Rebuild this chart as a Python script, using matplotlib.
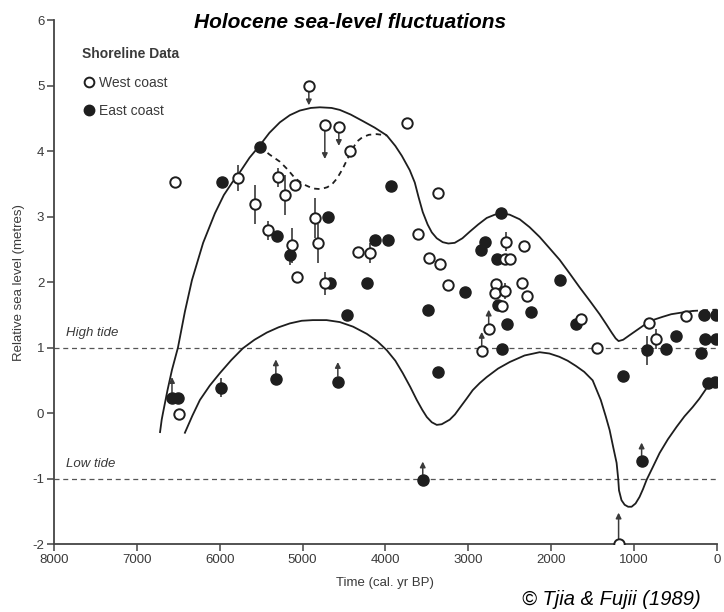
import matplotlib
matplotlib.use("Agg")
import matplotlib.pyplot as plt
from matplotlib.lines import Line2D

plt.rcParams["font.family"] = ["Liberation Sans Narrow", "Liberation Sans", "DejaVu Sans"]
plt.rcParams["axes.unicode_minus"] = False

# ---- data (time in cal. yr BP, level in metres) ----
west_t = [6540, 5780, 5575, 5300, 5213, 5420, 5093, 4852, 4816, 5130, 5069, 4731,
          4731, 4562, 4924, 4430, 3742, 4333, 4188, 3368, 3609, 3476, 3344, 3247,
          2548, 2330, 2560, 2500, 2668, 2680, 2560, 2596, 2355, 2294, 2753, 2837,
          1643, 1450, 822, 738, 376, 1185, 6492]
west_y = [3.53, 3.59, 3.19, 3.60, 3.33, 2.79, 3.48, 2.98, 2.59, 2.56, 2.08, 1.98,
          4.40, 4.37, 5.00, 4.01, 4.43, 2.46, 2.44, 3.36, 2.73, 2.37, 2.27, 1.95,
          2.62, 2.55, 2.35, 2.35, 1.97, 1.83, 1.86, 1.63, 1.98, 1.79, 1.28, 0.95,
          1.43, 0.99, 1.37, 1.13, 1.48, -2.00, -0.02]
west_err = [0, 0.2, 0.3, 0.15, 0.3, 0.15, 0, 0.3, 0.3, 0.27, 0, 0.17,
            0, 0, 0, 0, 0, 0, 0.15, 0, 0, 0, 0, 0,
            0.15, 0, 0, 0, 0, 0, 0.12, 0, 0, 0, 0, 0,
            0, 0, 0, 0.15, 0, 0, 0]

east_t = [5974, 5515, 5310, 5153, 4695, 4670, 4466, 4224, 4128, 3971, 3935, 3489,
          3042, 2849, 2801, 2608, 2656, 2644, 2536, 2596, 2246, 1890, 1703, 847,
          618, 497, 195, 140, 5, 160, 5, 1136, 110, 26, 907, 5986, 5322, 4574,
          3368, 3549, 6576, 6504]
east_y = [3.53, 4.06, 2.70, 2.41, 2.99, 1.98, 1.50, 1.98, 2.65, 2.65, 3.47, 1.57,
          1.85, 2.49, 2.62, 3.05, 2.35, 1.65, 1.36, 0.98, 1.54, 2.03, 1.36, 0.96,
          0.98, 1.18, 0.92, 1.13, 1.13, 1.50, 1.50, 0.56, 0.46, 0.47, -0.73, 0.39, 0.52, 0.48,
          0.63, -1.02, 0.23, 0.23]
east_err = [0, 0, 0, 0.15, 0, 0, 0, 0, 0, 0, 0, 0,
            0, 0, 0, 0, 0, 0, 0, 0, 0, 0, 0, 0.22,
            0, 0, 0, 0, 0, 0, 0, 0, 0, 0, 0, 0.15, 0, 0,
            0, 0, 0, 0]

# arrows: (time, level of sample, level of arrow tip)
west_arrows = [(4924, 5.00, 4.70), (4731, 4.40, 3.88), (4562, 4.37, 4.08),
               (2753, 1.28, 1.58), (2837, 0.95, 1.24), (1185, -2.00, -1.52)]
east_arrows = [(6576, 0.23, 0.55), (5322, 0.52, 0.82), (4574, 0.48, 0.78),
               (3549, -1.02, -0.74), (907, -0.73, -0.45)]

# envelope curves, traced point by point
upper_t = [6720, 6700, 6685, 6630, 6576, 6504, 6420, 6335, 6200, 6058, 5950, 5850,
           5756, 5640, 5515, 5400, 5274, 5153, 5033, 4900, 4791, 4650, 4550, 4420,
           4273, 4130, 3983, 3880, 3802, 3706, 3645, 3600, 3549, 3490, 3440, 3380,
           3308, 3240, 3163, 3070, 2982, 2880, 2777, 2680, 2596, 2500, 2379, 2260,
           2138, 2020, 1896, 1780, 1655, 1530, 1414, 1330, 1269, 1220, 1185, 1130,
           1052, 950, 847, 750, 654, 550, 449, 292]
upper_y = [-0.29, -0.10, 0.00, 0.35, 0.66, 1.00, 1.55, 2.03, 2.60, 3.05, 3.33, 3.52,
           3.68, 3.90, 4.09, 4.28, 4.44, 4.55, 4.62, 4.66, 4.67, 4.66, 4.63, 4.56,
           4.46, 4.36, 4.24, 4.08, 3.93, 3.71, 3.52, 3.30, 3.07, 2.88, 2.76, 2.67,
           2.61, 2.59, 2.60, 2.67, 2.77, 2.88, 2.98, 3.03, 3.05, 3.03, 2.96, 2.84,
           2.69, 2.52, 2.34, 2.14, 1.92, 1.71, 1.51, 1.35, 1.23, 1.14, 1.10, 1.12,
           1.19, 1.28, 1.37, 1.43, 1.47, 1.51, 1.53, 1.56]
upper_tail_t = [292, 150, 0]
upper_tail_y = [1.56, 1.57, 1.58]
inner_t = [5515, 5400, 5274, 5180, 5100, 5000, 4876, 4780, 4700, 4640, 4586, 4520,
           4466, 4400, 4340, 4280, 4200, 4104, 3983]
inner_y = [4.07, 3.95, 3.84, 3.72, 3.60, 3.50, 3.43, 3.42, 3.45, 3.50, 3.58, 3.72,
           3.86, 4.03, 4.15, 4.21, 4.25, 4.26, 4.24]
lower_t = [6420, 6330, 6239, 6120, 5998, 5860, 5720, 5580, 5431, 5290, 5153, 5010,
           4876, 4710, 4550, 4390, 4224, 4100, 3983, 3880, 3790, 3700, 3621, 3555,
           3500, 3440, 3380, 3320, 3223, 3160, 3102, 3020, 2946, 2860, 2777, 2640,
           2499, 2320, 2138, 2020, 1900, 1800, 1700, 1600, 1498, 1400, 1340, 1293,
           1250, 1209, 1190, 1180, 1150, 1112, 1070, 1028, 980, 932, 890, 847,
           770, 690, 590, 485, 390, 292, 210, 123, 60, 0]
lower_y = [-0.30, -0.04, 0.20, 0.42, 0.61, 0.81, 0.99, 1.12, 1.23, 1.31, 1.37, 1.41,
           1.42, 1.42, 1.39, 1.32, 1.21, 1.10, 0.96, 0.80, 0.61, 0.40, 0.20, 0.05,
           -0.06, -0.14, -0.18, -0.17, -0.10, -0.02, 0.08, 0.22, 0.35, 0.46, 0.55, 0.68,
           0.78, 0.88, 0.93, 0.91, 0.86, 0.80, 0.72, 0.63, 0.50, 0.20, -0.05, -0.26,
           -0.52, -0.76, -1.00, -1.18, -1.33, -1.40, -1.43, -1.43, -1.38, -1.28, -1.16, -1.02,
           -0.82, -0.61, -0.40, -0.21, -0.05, 0.09, 0.22, 0.38, 0.43, 0.46]

tide_levels = [1, -1]
tide_labels = ["High tide", "Low tide"]

INK = "#1e1e1e"
GREY = "#3a3a3a"

fig = plt.figure(figsize=(7.24, 6.12), dpi=100)
ax = fig.add_axes([0.0746, 0.111, 0.9154, 0.856])

# tide reference lines
for lvl, lab in zip(tide_levels, tide_labels):
    ax.axhline(lvl, color="#555555", lw=0.9, ls=(0, (4, 3)), zorder=1)
    ax.text(7850, lvl + 0.22, lab, fontsize=9.5, style="italic", color=GREY, va="center")

# curves
line_kw = dict(color=INK, lw=1.3, solid_joinstyle="round", dash_joinstyle="round", zorder=2)
ax.plot(upper_t, upper_y, **line_kw)
ax.plot(upper_tail_t, upper_tail_y, ls=(0, (3, 2.5)), **line_kw)
ax.plot(inner_t, inner_y, ls=(0, (3, 2.5)), **line_kw)
ax.plot(lower_t, lower_y, **line_kw)

# error bars
ax.errorbar(west_t, west_y, yerr=west_err, fmt="none", ecolor=GREY, elinewidth=1.2, capsize=0, zorder=3)
ax.errorbar(east_t, east_y, yerr=east_err, fmt="none", ecolor=GREY, elinewidth=1.2, capsize=0, zorder=3)

# arrows
for t, y0, y1 in west_arrows + east_arrows:
    ax.annotate("", xy=(t, y1), xytext=(t, y0),
                arrowprops=dict(arrowstyle="-|>", color=GREY, lw=1.1, mutation_scale=8,
                                shrinkA=4, shrinkB=0), zorder=3)

# samples
ax.plot(west_t, west_y, ls="none", marker="o", ms=7.5, mfc="white", mec=INK, mew=1.4, zorder=5)
ax.plot(east_t, east_y, ls="none", marker="o", ms=8, mfc=INK, mec=INK, mew=1.0, zorder=4)

ax.set_xlim(8000, 0)
ax.set_ylim(-2, 6)
ax.set_xticks([8000, 7000, 6000, 5000, 4000, 3000, 2000, 1000, 0])
ax.set_yticks(range(-2, 7))
ax.tick_params(direction="out", length=5, width=1.1, colors="#444444", labelsize=9.5,
               labelcolor=GREY, pad=2)
for side in ("top", "right"):
    ax.spines[side].set_visible(False)
for side in ("left", "bottom"):
    ax.spines[side].set_color("#444444")
    ax.spines[side].set_linewidth(1.3)

ax.set_xlabel("Time (cal. yr BP)", fontsize=9.5, color=GREY, labelpad=8)
ax.set_ylabel("Relative sea level (metres)", fontsize=9.5, color=GREY, labelpad=5)

handles = [
    Line2D([], [], ls="none", marker="o", ms=7, mfc="white", mec=INK, mew=1.4),
    Line2D([], [], ls="none", marker="o", ms=7.5, mfc=INK, mec=INK),
]
leg = ax.legend(handles, ["West coast", "East coast"], title="Shoreline Data",
                loc="upper left", bbox_to_anchor=(0.032, 0.962), frameon=False,
                fontsize=10, title_fontsize=10, handletextpad=0.2, handlelength=1.0,
                labelspacing=1.05, borderpad=0, alignment="left")
leg.get_title().set_fontweight("bold")
leg.get_title().set_color(GREY)
for txt in leg.get_texts():
    txt.set_color(GREY)

fig.text(0.483, 0.964, "Holocene sea-level fluctuations", fontsize=15, fontweight="bold",
         style="italic", ha="center", va="center", family=["Liberation Sans", "DejaVu Sans"])
fig.text(0.844, 0.021, "\u00a9 Tjia & Fujii (1989)", fontsize=14.5, style="italic",
         ha="center", va="center", family=["Liberation Sans", "DejaVu Sans"])

fig.savefig("out.png", dpi=100)
